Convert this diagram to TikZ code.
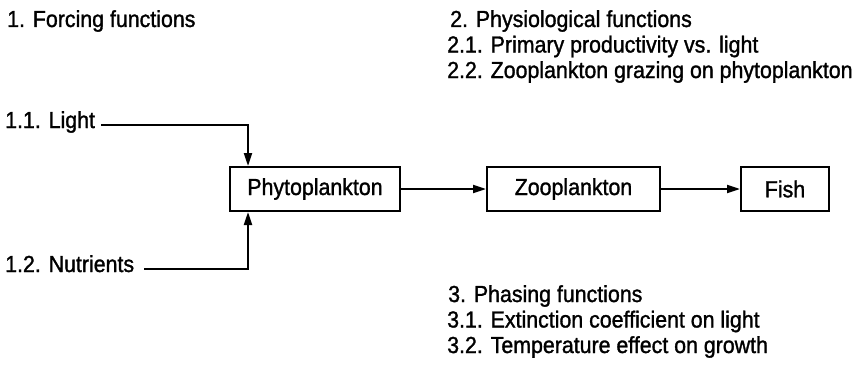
\documentclass[tikz,border=0pt]{standalone}
\usepackage{fontspec}
\setmainfont{Liberation Sans}[UprightFeatures={FakeBold=1.3}, FakeStretch=0.92]
\usepackage{tikz}
\usetikzlibrary{arrows.meta,positioning}

\begin{document}
\begin{tikzpicture}[
      x=1pt, y=-1pt,
      >={Triangle[length=13pt,width=8pt]},
      font=\fontsize{23.2}{25}\selectfont,
      lbl/.style={inner sep=0pt, anchor=base west},
      box/.style={draw, line width=2pt, minimum height=44pt, inner sep=0pt},
      flow/.style={->, line width=2pt},
    ]
    \useasboundingbox (0,0) rectangle (856,372);

    % compartments
    \node[box, minimum width=170pt] (phyto) at (315,189) {Phytoplankton};
    \node[box, minimum width=173pt, right=85pt of phyto] (zoo) {Zooplankton};
    \node[box, minimum width=88pt, right=79pt of zoo] (fish) {Fish};

    \draw[flow] (phyto) -- (zoo);
    \draw[flow] (zoo) -- (fish);

    % forcing functions
    \node[lbl] (forcing) at (7,27) {1. Forcing functions};
    \node[lbl] (light) at (5,128) {1.1. Light};
    \node[lbl] (nutr) at (5,272) {1.2. Nutrients};

    \coordinate (lightin) at ([xshift=19pt]phyto.north west);
    \coordinate (nutrin) at ([xshift=19pt]phyto.south west);
    \draw[flow, shorten <=6pt] (light.mid east) -| (lightin);
    \draw[flow, shorten <=10pt] (nutr.mid east) -| (nutrin);

    % physiological functions
    \node[lbl] (physio) at (450,27) {2. Physiological functions};
    \node[lbl] (physioa) at (447,52.5) {2.1. Primary productivity vs. light};
    \node[lbl] (physiob) at (447,78) {2.2. Zooplankton grazing on phytoplankton};

    % phasing functions
    \node[lbl] (phasing) at (448,302) {3. Phasing functions};
    \node[lbl] (phasinga) at (447,327.5) {3.1. Extinction coefficient on light};
    \node[lbl] (phasingb) at (447,353) {3.2. Temperature effect on growth};
  \end{tikzpicture}
\end{document}
